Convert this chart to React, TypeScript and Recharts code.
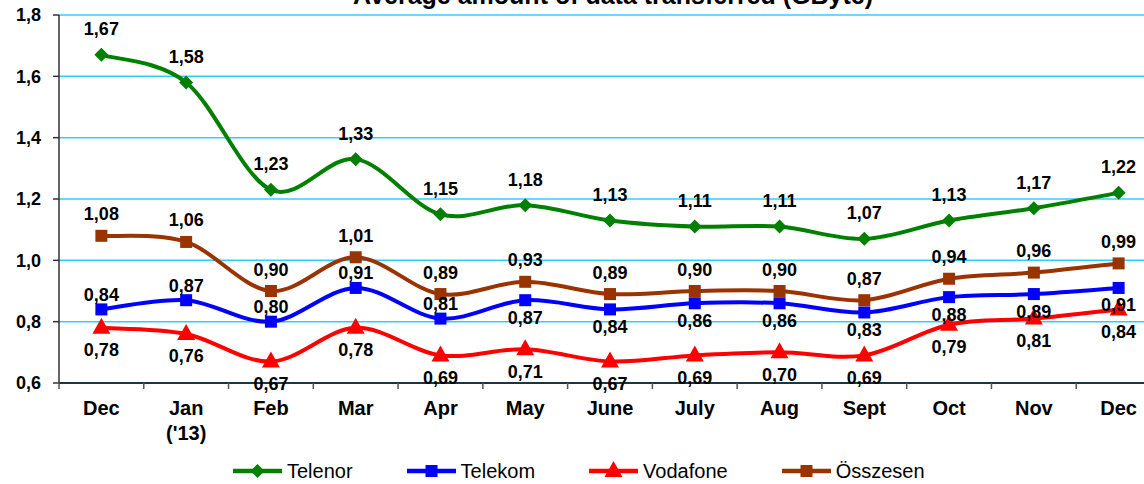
import { CartesianGrid, Legend, Line, LineChart, XAxis, YAxis } from 'recharts'

const months = ['Dec', "Jan\n('13)", 'Feb', 'Mar', 'Apr', 'May', 'June', 'July', 'Aug', 'Sept', 'Oct', 'Nov', 'Dec']
const telenor = [1.67, 1.58, 1.23, 1.33, 1.15, 1.18, 1.13, 1.11, 1.11, 1.07, 1.13, 1.17, 1.22]
const telekom = [0.84, 0.87, 0.8, 0.91, 0.81, 0.87, 0.84, 0.86, 0.86, 0.83, 0.88, 0.89, 0.91]
const vodafone = [0.78, 0.76, 0.67, 0.78, 0.69, 0.71, 0.67, 0.69, 0.7, 0.69, 0.79, 0.81, 0.84]
const osszesen = [1.08, 1.06, 0.9, 1.01, 0.89, 0.93, 0.89, 0.9, 0.9, 0.87, 0.94, 0.96, 0.99]
const yTicks = [0.6, 0.8, 1.0, 1.2, 1.4, 1.6, 1.8]

const data = months.map((month, i) => ({
  month,
  telenor: telenor[i],
  telekom: telekom[i],
  vodafone: vodafone[i],
  osszesen: osszesen[i],
}))

const FONT = '"Liberation Sans", Arial, sans-serif'
const CHART_W = 1170
const Y_W = 59
const RIGHT = 9
const BAND = (CHART_W - Y_W - RIGHT) / months.length

const GREEN = '#008000'
const BLUE = '#0000FF'
const RED = '#FF0000'
const BROWN = '#993300'

const fmt = (v: number) => v.toFixed(2).replace('.', ',')

// Excel-like smoothed line (Catmull-Rom through the points)
const excelCurve = (context: any) => {
  let pts: number[][] = []
  return {
    areaStart() {},
    areaEnd() {},
    lineStart() {
      pts = []
    },
    point(x: number, y: number) {
      pts.push([+x, +y])
    },
    lineEnd() {
      if (!pts.length) return
      context.moveTo(pts[0][0], pts[0][1])
      for (let i = 0; i < pts.length - 1; i++) {
        const p0 = pts[i - 1] || pts[i]
        const p1 = pts[i]
        const p2 = pts[i + 1]
        const p3 = pts[i + 2] || p2
        context.bezierCurveTo(
          p1[0] + (p2[0] - p0[0]) / 6,
          p1[1] + (p2[1] - p0[1]) / 6,
          p2[0] - (p3[0] - p1[0]) / 6,
          p2[1] - (p3[1] - p1[1]) / 6,
          p2[0],
          p2[1],
        )
      }
    },
  }
}

function Marker({ shape, cx, cy, color }: { shape: string; cx: number; cy: number; color: string }) {
  if (shape === 'diamond') {
    return <polygon points={`${cx},${cy - 7} ${cx + 7},${cy} ${cx},${cy + 7} ${cx - 7},${cy}`} fill={color} />
  }
  if (shape === 'triangle') {
    return <polygon points={`${cx},${cy - 10} ${cx + 9},${cy + 6} ${cx - 9},${cy + 6}`} fill={color} />
  }
  return <rect x={cx - 6} y={cy - 6} width={12} height={12} fill={color} />
}

const dotFor = (shape: string, color: string) => (p: any) => (
  <g key={`${shape}-${p.index}`}>
    <Marker shape={shape} cx={p.cx} cy={p.cy} color={color} />
  </g>
)

const labelFor = (offset: (i: number) => number) => (p: any) => (
  <text
    key={`l-${p.index}`}
    x={p.x}
    y={p.y + offset(p.index) + 6.5}
    textAnchor="middle"
    fontFamily={FONT}
    fontWeight="bold"
    fontSize={18}
    fill="#000"
  >
    {fmt(p.value)}
  </text>
)

function MonthTick({ x, y, payload }: any) {
  const lines = String(payload.value).split('\n')
  return (
    <g>
      <line x1={x - BAND / 2} y1={y} x2={x - BAND / 2} y2={y + 6} stroke="#555" strokeWidth={1.5} />
      {lines.map((t, i) => (
        <text
          key={i}
          x={x}
          y={y + 32 + i * 25}
          textAnchor="middle"
          fontFamily={FONT}
          fontWeight="bold"
          fontSize={20}
          fill="#000"
        >
          {t}
        </text>
      ))}
    </g>
  )
}

const legendItems = [
  { name: 'Telenor', color: GREEN, shape: 'diamond' },
  { name: 'Telekom', color: BLUE, shape: 'square' },
  { name: 'Vodafone', color: RED, shape: 'triangle' },
  { name: 'Összesen', color: BROWN, shape: 'square' },
]

function LegendContent() {
  return (
    <div style={{ display: 'flex', alignItems: 'center', gap: 54, paddingLeft: 233, height: 24 }}>
      {legendItems.map((it) => (
        <div key={it.name} style={{ display: 'flex', alignItems: 'center' }}>
          <svg width={49} height={20}>
            <line x1={0} y1={10} x2={49} y2={10} stroke={it.color} strokeWidth={4.5} />
            <Marker shape={it.shape} cx={24.5} cy={10} color={it.color} />
          </svg>
          <span style={{ fontFamily: FONT, fontSize: 20, color: '#000', marginLeft: 5 }}>{it.name}</span>
        </div>
      ))}
    </div>
  )
}

export default function App() {
  return (
    <div
      style={{
        position: 'fixed',
        left: 0,
        top: 0,
        width: 1144,
        height: 484,
        overflow: 'hidden',
        background: '#fff',
      }}
    >
      <svg width={1144} height={30} style={{ position: 'absolute', left: 0, top: 0 }}>
        <text x={353} y={4} fontFamily={FONT} fontWeight="bold" fontSize={25} fill="#000">
          Average amount of data transferred (GByte)
        </text>
      </svg>
      <LineChart
        width={CHART_W}
        height={484}
        data={data}
        margin={{ top: 15, right: RIGHT, left: 0, bottom: 0 }}
      >
        <CartesianGrid vertical={false} stroke="#33CCFF" strokeWidth={1.5} />
        <XAxis
          dataKey="month"
          height={101}
          padding={{ left: BAND / 2, right: BAND / 2 }}
          axisLine={{ stroke: '#000', strokeWidth: 1.5 }}
          tickLine={false}
          tickSize={0}
          tickMargin={0}
          interval={0}
          tick={<MonthTick />}
        />
        <YAxis
          width={Y_W}
          domain={[0.6, 1.8]}
          ticks={yTicks}
          interval={0}
          axisLine={{ stroke: '#333', strokeWidth: 1.5 }}
          tickLine={{ stroke: '#333', strokeWidth: 1.5 }}
          tickSize={6}
          tickMargin={12}
          tickFormatter={(v: number) => v.toFixed(1).replace('.', ',')}
          tick={{ fontFamily: FONT, fontWeight: 'bold', fontSize: 18, fill: '#000' }}
        />
        <Legend
          layout="horizontal"
          verticalAlign="middle"
          align="center"
          wrapperStyle={{ top: 459, left: 0, width: 1144 }}
          content={<LegendContent />}
        />
        <Line
          dataKey="vodafone"
          type={excelCurve as any}
          stroke={RED}
          strokeWidth={4}
          dot={dotFor('triangle', RED)}
          activeDot={false}
          label={labelFor(() => 22)}
          isAnimationActive={false}
        />
        <Line
          dataKey="telekom"
          type={excelCurve as any}
          stroke={BLUE}
          strokeWidth={4}
          dot={dotFor('square', BLUE)}
          activeDot={false}
          label={labelFor((i) => (i < 5 ? -15 : 17))}
          isAnimationActive={false}
        />
        <Line
          dataKey="osszesen"
          type={excelCurve as any}
          stroke={BROWN}
          strokeWidth={4}
          dot={dotFor('square', BROWN)}
          activeDot={false}
          label={labelFor(() => -22)}
          isAnimationActive={false}
        />
        <Line
          dataKey="telenor"
          type={excelCurve as any}
          stroke={GREEN}
          strokeWidth={4}
          dot={dotFor('diamond', GREEN)}
          activeDot={false}
          label={labelFor(() => -26)}
          isAnimationActive={false}
        />
      </LineChart>
    </div>
  )
}
